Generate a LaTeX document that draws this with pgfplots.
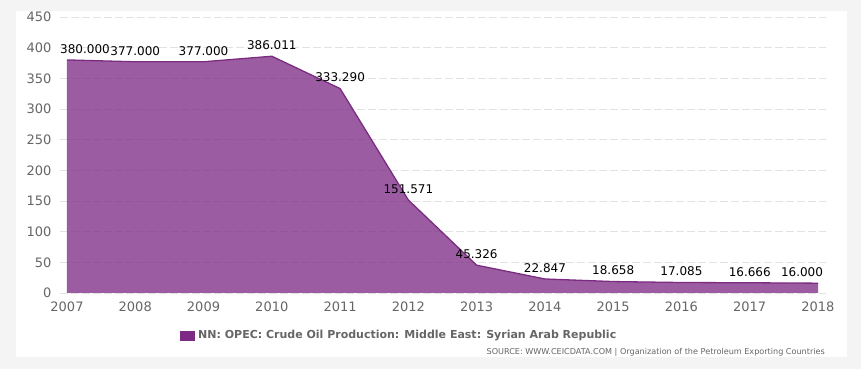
\documentclass[border=0pt]{standalone}
\usepackage{pgfplots}
\pgfplotsset{compat=1.18}
\usepackage{pgfplotstable}
\usepackage{fontspec}
\setmainfont{DejaVu Sans}
\definecolor{arealine}{RGB}{122,44,128}
\definecolor{legsq}{RGB}{124,42,133}
\definecolor{tickgray}{RGB}{102,102,102}
\definecolor{gridgray}{RGB}{226,226,226}
\definecolor{bggray}{RGB}{244,244,244}
\pgfplotstableread{
year val lab dx
2007 380.000 380.000 18
2008 377.000 377.000 0
2009 377.000 377.000 0
2010 386.011 386.011 0
2011 333.290 333.290 0
2012 151.571 151.571 0
2013 45.326 45.326 0
2014 22.847 22.847 0
2015 18.658 18.658 0
2016 17.085 17.085 0
2017 16.666 16.666 0
2018 16.000 16.000 -16
}\datatable
\begin{document}
\begin{tikzpicture}[x=1pt,y=1pt]
\fill[bggray] (0,0) rectangle (861,369);
\fill[white] (16,12) rectangle (847,358);
\begin{axis}[
  at={(60pt,76pt)}, anchor=south west,
  scale only axis, width=766pt, height=276pt,
  xmin=2006.8975, xmax=2018.117, ymin=0, ymax=450,
  axis line style={draw=none},
  xtick={2007,...,2018}, ytick={0,50,...,450},
  xticklabel style={font=\fontsize{13}{13}\selectfont, text=tickgray, yshift=-5pt, /pgf/number format/1000 sep={}},
  yticklabel style={font=\fontsize{13}{13}\selectfont, text=tickgray, xshift=-5pt},
  /pgf/number format/assume math mode=true,
  ymajorgrids, major grid style={gridgray, dash pattern=on 8pt off 3pt, line width=0.8pt},
  tick style={draw=none},
  clip=false,
]
\addplot[fill=legsq, fill opacity=0.76, draw=none] table[x=year,y=val]{\datatable} \closedcycle;
\addplot[draw=arealine, line width=1.3pt, mark=none] table[x=year,y=val]{\datatable};
\addplot[draw=none, forget plot,
  nodes near coords, point meta=explicit symbolic,
  visualization depends on={\thisrow{dx} \as \dx},
  every node near coord/.append style={anchor=center, yshift=11pt, xshift=\dx pt,
    font=\fontsize{12}{12}\selectfont, text=black}]
  table[x=year,y=val,meta=lab]{\datatable};
\end{axis}
\fill[legsq] (180,28) rectangle (195,38);
\node[anchor=west, text=tickgray, font=\bfseries\fontsize{11}{11}\selectfont, inner sep=0] at (198,33) {NN: OPEC: Crude Oil Production: Middle East: Syrian Arab Republic};
\node[anchor=east, text=tickgray, font=\fontsize{8.1}{8.1}\selectfont, inner sep=0] at (825,17) {SOURCE: WWW.CEICDATA.COM | Organization of the Petroleum Exporting Countries};
\end{tikzpicture}
\end{document}
